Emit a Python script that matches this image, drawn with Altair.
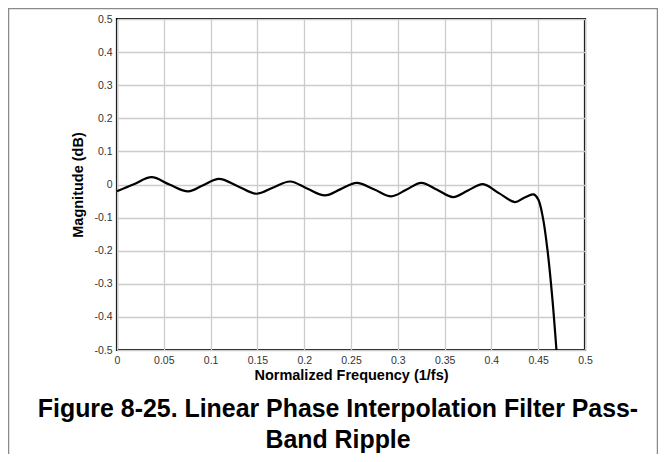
import altair as alt
import pandas as pd

# Values (peaks, troughs and in-between points)
freq = [0.0, 0.018, 0.037, 0.056, 0.076, 0.092, 0.109, 0.129, 0.149, 0.167,
        0.185, 0.203, 0.222, 0.239, 0.256, 0.275, 0.293, 0.309, 0.325, 0.342,
        0.359, 0.375, 0.391, 0.408, 0.425, 0.435, 0.445, 0.450, 0.455, 0.460,
        0.465, 0.4695]
mag = [-0.020, 0.001, 0.022, 0.000, -0.021, -0.002, 0.017, -0.005, -0.028, -0.009,
       0.009, -0.012, -0.033, -0.014, 0.005, -0.015, -0.036, -0.016, 0.005, -0.016,
       -0.038, -0.018, 0.001, -0.026, -0.053, -0.040, -0.030, -0.045, -0.100, -0.200,
       -0.340, -0.500]

x_ticks = [0, 0.05, 0.1, 0.15, 0.2, 0.25, 0.3, 0.35, 0.4, 0.45, 0.5]
y_ticks = [-0.5, -0.4, -0.3, -0.2, -0.1, 0, 0.1, 0.2, 0.3, 0.4, 0.5]

title_lines = ["Figure 8-25. Linear Phase Interpolation Filter Pass-", "Band Ripple"]
x_title = "Normalized Frequency (1/fs)"
y_title = "Magnitude (dB)"

df = pd.DataFrame({"freq": freq, "mag": mag})
frame_df = pd.DataFrame({"k": [0]})

FONT = "Liberation Sans"

line = alt.Chart(df).mark_line(
    color="black", strokeWidth=2.2, interpolate="catmull-rom", clip=True
).encode(
    x=alt.X("freq:Q",
            scale=alt.Scale(domain=[0, 0.5], nice=False, zero=False),
            axis=alt.Axis(values=x_ticks, title=x_title,
                          labelExpr="format(datum.value, '~g')")),
    y=alt.Y("mag:Q",
            scale=alt.Scale(domain=[-0.5, 0.5], nice=False, zero=False),
            axis=alt.Axis(values=y_ticks, title=y_title,
                          labelExpr="replace(format(datum.value, '~g'), '\u2212', '-')")),
)

frame = alt.Chart(frame_df).mark_rect(
    fill=None, stroke="#8a8a8a", strokeWidth=1.5, clip=False
).encode(
    x=alt.value(-108.5), x2=alt.value(540.5),
    y=alt.value(-10.5), y2=alt.value(437),
)

chart = alt.layer(frame, line).properties(
    width=468,
    height=331,
    autosize=alt.AutoSizeParams(type="none"),
    padding={"left": 109, "top": 11, "right": 73, "bottom": 104},
    title=alt.TitleParams(
        text=title_lines, orient="bottom", anchor="middle", offset=0,
        dx=-13, dy=-60,
        font=FONT, fontSize=24.9, fontWeight="bold", color="black",
        lineHeight=31,
    ),
).configure_view(
    stroke="black", strokeWidth=2.2
).configure_axis(
    grid=True, gridColor="#cccccc", gridWidth=1.3,
    domain=False, ticks=False,
    labelFont=FONT, labelFontSize=10.5, labelColor="#333333", labelPadding=5,
    titleFont=FONT, titleFontSize=14.5, titleFontWeight="bold", titleColor="black",
).configure_axisX(
    titlePadding=3, labelFlush=False
).configure_axisY(
    titlePadding=8
)

chart.save("out.html", embed_options={"renderer": "svg", "actions": False})
